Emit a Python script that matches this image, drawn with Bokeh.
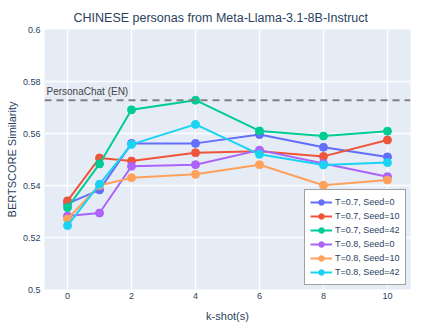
from bokeh.plotting import figure
from bokeh.models import Legend, LegendItem, Span, Label, FixedTicker, Range1d, Title
from bokeh.embed import file_html
from bokeh.resources import INLINE

k_shots = [0, 1, 2, 4, 6, 8, 10]
t07_s0 = [0.5330, 0.5383, 0.5562, 0.5562, 0.5596, 0.5547, 0.5510]
t07_s10 = [0.5341, 0.5506, 0.5494, 0.5526, 0.5532, 0.5512, 0.5575]
t07_s42 = [0.5315, 0.5483, 0.5691, 0.5728, 0.5610, 0.5590, 0.5609]
t08_s0 = [0.5283, 0.5294, 0.5474, 0.5480, 0.5536, 0.5485, 0.5434]
t08_s10 = [0.5271, 0.5400, 0.5430, 0.5443, 0.5480, 0.5401, 0.5421]
t08_s42 = [0.5246, 0.5405, 0.5558, 0.5635, 0.5520, 0.5479, 0.5488]
series_names = ["T=0.7, Seed=0", "T=0.7, Seed=10", "T=0.7, Seed=42",
                "T=0.8, Seed=0", "T=0.8, Seed=10", "T=0.8, Seed=42"]
series_values = [t07_s0, t07_s10, t07_s42, t08_s0, t08_s10, t08_s42]
colors = ["#636efa", "#EF553B", "#00cc96", "#ab63fa", "#FFA15A", "#19d3f3"]
baseline_value = 0.5728
baseline_label = "PersonaChat (EN)"
y_ticks = [0.5, 0.52, 0.54, 0.56, 0.58, 0.6]
y_tick_labels = ["0.5", "0.52", "0.54", "0.56", "0.58", "0.6"]
x_ticks = [0, 2, 4, 6, 8, 10]

FONT = "Liberation Sans"
TXT = "#2a3f5f"

p = figure(width=439, height=329, output_backend="svg", toolbar_location=None,
           x_range=Range1d(-0.72, 10.72), y_range=Range1d(0.5, 0.6),
           min_border_left=44, min_border_right=29, min_border_bottom=40, min_border_top=29)
p.title = Title(text="CHINESE personas from Meta-Llama-3.1-8B-Instruct", align="left", offset=29,
                text_font=FONT, text_font_size="12.5px", text_font_style="normal", text_color=TXT)
p.background_fill_color = "#E5ECF6"
p.border_fill_color = "white"
p.outline_line_color = None
p.grid.grid_line_color = "white"
p.grid.grid_line_width = 1.3
p.xgrid.ticker = FixedTicker(ticks=x_ticks)
p.ygrid.ticker = FixedTicker(ticks=y_ticks)

for ax in (p.xaxis, p.yaxis):
    ax.axis_line_color = None
    ax.major_tick_line_color = None
    ax.minor_tick_line_color = None
    ax.major_tick_out = 0
    ax.major_tick_in = 0
    ax.minor_tick_out = 0
    ax.minor_tick_in = 0
    ax.major_label_text_font = FONT
    ax.major_label_text_font_size = "9px"
    ax.major_label_text_color = TXT
    ax.axis_label_text_font = FONT
    ax.axis_label_text_font_size = "11px"
    ax.axis_label_text_font_style = "normal"
    ax.axis_label_text_color = TXT

p.xaxis.ticker = FixedTicker(ticks=x_ticks)
p.yaxis.ticker = FixedTicker(ticks=y_ticks)
p.yaxis.major_label_overrides = {t: l for t, l in zip(y_ticks, y_tick_labels)}
p.xaxis.axis_label = "k-shot(s)"
p.yaxis.axis_label = "BERTSCORE Similarity"
p.xaxis.major_label_standoff = 3
p.yaxis.major_label_standoff = 4
p.xaxis.axis_label_standoff = 8
p.yaxis.axis_label_standoff = 2

span = Span(location=baseline_value, dimension="width", line_color="#808080",
            line_width=2, line_dash="7 5")
p.add_layout(span)
p.add_layout(Label(x=-0.72, y=baseline_value, text=baseline_label, x_offset=2, y_offset=3,
                   text_font=FONT, text_font_size="10px", text_color="#444444",
                   text_baseline="bottom"))

items = []
for name, vals, c in zip(series_names, series_values, colors):
    r1 = p.line(k_shots, vals, line_color=c, line_width=2)
    r2 = p.scatter(k_shots, vals, size=8, fill_color=c, line_color=c)
    items.append(LegendItem(label=name, renderers=[r1, r2]))

legend = Legend(items=items, location=(260, 4), label_text_font=FONT,
                label_text_font_size="9px", label_text_color=TXT,
                glyph_width=22, glyph_height=14, label_height=14, spacing=0,
                padding=5, margin=0, background_fill_color="white", background_fill_alpha=1,
                border_line_color="#444444", border_line_width=1.5, label_standoff=3)
p.add_layout(legend)

open("out.html", "w").write(file_html(p, INLINE))
